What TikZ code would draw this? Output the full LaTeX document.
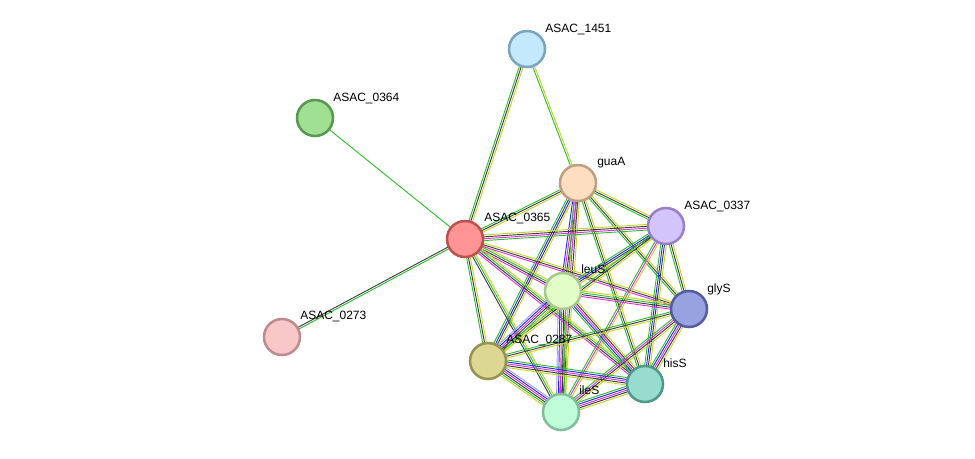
\documentclass[tikz,border=0pt]{standalone}
\usepackage{fontspec}
\setmainfont{Liberation Sans}
\usetikzlibrary{calc}
\definecolor{egreen}{RGB}{48,190,48}
\definecolor{eblack}{RGB}{60,60,60}
\definecolor{eyel}{RGB}{196,212,40}
\definecolor{emag}{RGB}{220,50,220}
\definecolor{eblue}{RGB}{40,40,240}
\definecolor{elight}{RGB}{160,160,245}
\tikzset{
  edgeline/.style={line width=0.7pt},
  prot/.style={circle,minimum size=27pt,inner sep=0pt,line width=1.9pt},
  plabel/.style={anchor=base west,font=\fontsize{9pt}{10pt}\selectfont,inner sep=0pt}
}
\newcommand\bund[4]{%
  \foreach \c [count=\i] in {#4}{%
    \pgfmathsetmacro\off{(\i-(#3+1)/2)*1.4}%
    \draw[edgeline,color=\c] ($(#1)!\off pt!90:(#2)$) -- ($(#2)!\off pt!-90:(#1)$);
  }}
\begin{document}
\begin{tikzpicture}[x=0.75pt,y=-0.75pt]
\useasboundingbox (0,0) rectangle (975,458);
% coordinates of node centres
\coordinate (p1451) at (527,49);
\coordinate (p0364) at (315,118);
\coordinate (pguaA) at (578,183);
\coordinate (p0365) at (465,239);
\coordinate (p0337) at (666,226);
\coordinate (pleuS) at (563,291);
\coordinate (pglyS) at (689,309);
\coordinate (p0273) at (282,337);
\coordinate (p0287) at (488,361);
\coordinate (phisS) at (645,384);
\coordinate (pileS) at (561,412);
% edges
\bund{p1451}{p0365}{3}{egreen,eblack,eyel}
\bund{p1451}{pguaA}{2}{egreen,eyel}
\bund{p0364}{p0365}{1}{egreen}
\bund{p0273}{p0365}{2}{egreen,eblack}
\bund{pguaA}{p0365}{3}{egreen,eblack,eyel}
\bund{pguaA}{p0337}{3}{egreen,eblack,eyel}
\bund{pguaA}{pleuS}{4}{eblue,emag,eblack,eyel}
\bund{pguaA}{pglyS}{3}{egreen,eblack,eyel}
\bund{pguaA}{phisS}{3}{egreen,eblack,eyel}
\bund{pguaA}{pileS}{4}{egreen,emag,eblack,eyel}
\bund{pguaA}{p0287}{4}{egreen,eblue,eblack,eyel}
\bund{p0365}{p0337}{4}{egreen,emag,eblack,eyel}
\bund{p0365}{pleuS}{4}{emag,eblack,egreen,eyel}
\bund{p0365}{pglyS}{3}{emag,eblack,eyel}
\bund{p0365}{phisS}{4}{emag,eblack,egreen,eyel}
\bund{p0365}{pileS}{3}{eblack,egreen,eyel}
\bund{p0365}{p0287}{3}{egreen,eblack,eyel}
\bund{p0337}{pleuS}{4}{egreen,eblue,eblack,eyel}
\bund{p0337}{pglyS}{3}{egreen,eblack,eyel}
\bund{p0337}{phisS}{4}{egreen,eblue,eblack,eyel}
\bund{p0337}{pileS}{3}{egreen,emag,eyel}
\bund{p0337}{p0287}{3}{egreen,eblack,eyel}
\bund{pleuS}{pglyS}{4}{emag,eblack,egreen,eyel}
\bund{pleuS}{phisS}{5}{egreen,eblue,emag,eblack,eyel}
\bund{pleuS}{pileS}{6}{elight,eblue,emag,eblack,egreen,eyel}
\bund{pleuS}{p0287}{6}{elight,eblue,emag,eblack,egreen,eyel}
\bund{pglyS}{phisS}{5}{egreen,eblue,emag,eblack,eyel}
\bund{pglyS}{pileS}{4}{egreen,emag,eblack,eyel}
\bund{pglyS}{p0287}{3}{egreen,eblack,eyel}
\bund{phisS}{pileS}{5}{egreen,eblue,emag,eblack,eyel}
\bund{phisS}{p0287}{5}{egreen,eblue,emag,eblack,eyel}
\bund{pileS}{p0287}{6}{elight,eblue,emag,eblack,egreen,eyel}
% nodes
\node[prot,fill={rgb,255:red,196;green,233;blue,252},draw={rgb,255:red,122;green,164;blue,192}] (n1451) at (p1451) {};
\node[prot,fill={rgb,255:red,160;green,224;blue,146},draw={rgb,255:red,88;green,152;blue,80}] (n0364) at (p0364) {};
\node[prot,fill={rgb,255:red,253;green,222;blue,192},draw={rgb,255:red,190;green,160;blue,128}] (nguaA) at (pguaA) {};
\node[prot,fill={rgb,255:red,255;green,148;blue,148},draw={rgb,255:red,190;green,80;blue,80}] (n0365) at (p0365) {};
\node[prot,fill={rgb,255:red,212;green,196;blue,252},draw={rgb,255:red,152;green,128;blue,200}] (n0337) at (p0337) {};
\node[prot,fill={rgb,255:red,226;green,253;blue,200},draw={rgb,255:red,168;green,200;blue,144}] (nleuS) at (pleuS) {};
\node[prot,fill={rgb,255:red,152;green,162;blue,224},draw={rgb,255:red,84;green,92;blue,160}] (nglyS) at (pglyS) {};
\node[prot,fill={rgb,255:red,248;green,200;blue,200},draw={rgb,255:red,190;green,140;blue,140}] (n0273) at (p0273) {};
\node[prot,fill={rgb,255:red,220;green,216;blue,148},draw={rgb,255:red,152;green,148;blue,80}] (n0287) at (p0287) {};
\node[prot,fill={rgb,255:red,152;green,220;blue,208},draw={rgb,255:red,80;green,152;blue,140}] (nhisS) at (phisS) {};
\node[prot,fill={rgb,255:red,192;green,252;blue,216},draw={rgb,255:red,128;green,190;blue,156}] (nileS) at (pileS) {};
% labels
\node[plabel] (l1451) at ($(p1451)+(18,-17)$) {ASAC\_1451};
\node[plabel] (l0364) at ($(p0364)+(18,-17)$) {ASAC\_0364};
\node[plabel] (lguaA) at ($(pguaA)+(19,-18)$) {guaA};
\node[plabel] (l0365) at ($(p0365)+(19,-18)$) {ASAC\_0365};
\node[plabel] (l0337) at ($(p0337)+(18,-17)$) {ASAC\_0337};
\node[plabel] (lleuS) at ($(pleuS)+(18,-18)$) {leuS};
\node[plabel] (lglyS) at ($(pglyS)+(18,-17)$) {glyS};
\node[plabel] (l0273) at ($(p0273)+(18,-18)$) {ASAC\_0273};
\node[plabel] (l0287) at ($(p0287)+(18,-18)$) {ASAC\_0287};
\node[plabel] (lhisS) at ($(phisS)+(18,-17)$) {hisS};
\node[plabel] (lileS) at ($(pileS)+(18,-18)$) {ileS};
\end{tikzpicture}
\end{document}
